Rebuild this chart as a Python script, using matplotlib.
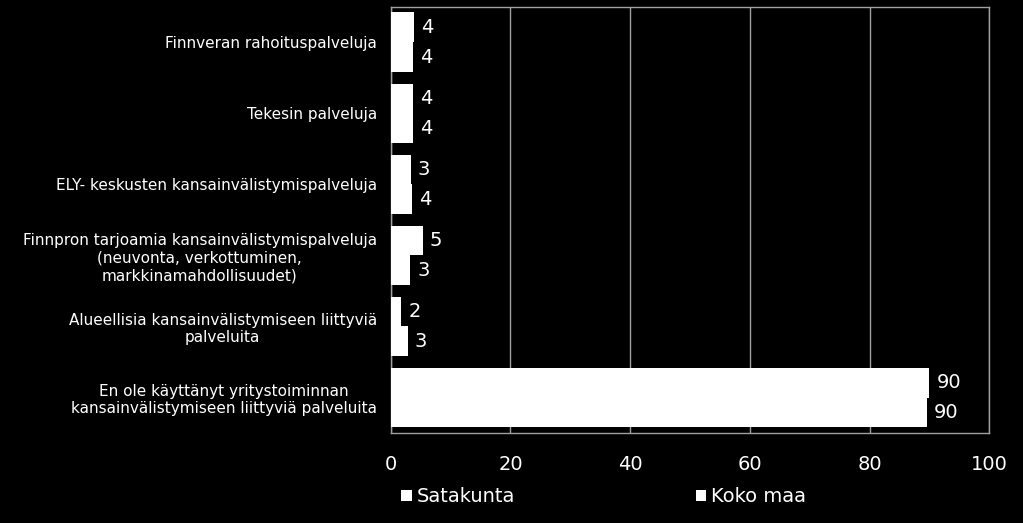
import numpy as np
import matplotlib.pyplot as plt

categories = [
    "Finnveran rahoituspalveluja",
    "Tekesin palveluja",
    "ELY- keskusten kansainvälistymispalveluja",
    "Finnpron tarjoamia kansainvälistymispalveluja\n(neuvonta, verkottuminen,\nmarkkinamahdollisuudet)",
    "Alueellisia kansainvälistymiseen liittyviä\npalveluita",
    "En ole käyttänyt yritystoiminnan\nkansainvälistymiseen liittyviä palveluita",
]
satakunta = [3.9, 3.7, 3.3, 5.3, 1.7, 90.0]
koko_maa = [3.7, 3.7, 3.6, 3.2, 2.8, 89.6]
satakunta_labels = ["4", "4", "3", "5", "2", "90"]
koko_maa_labels = ["4", "4", "4", "3", "3", "90"]
xticks = [0, 20, 40, 60, 80, 100]

fig = plt.figure(figsize=(10.23, 5.23), dpi=100, facecolor="black")
ax = fig.add_axes([0.382, 0.172, 0.585, 0.815], facecolor="black")

y = np.arange(len(categories))
h = 0.42
b1 = ax.barh(y - h / 2, satakunta, height=h, color="white", label="Satakunta", zorder=3)
b2 = ax.barh(y + h / 2, koko_maa, height=h, color="white", label="Koko maa", zorder=3)

for bars, labs in ((b1, satakunta_labels), (b2, koko_maa_labels)):
    for bar, lab in zip(bars, labs):
        ax.text(bar.get_width() + 1.2, bar.get_y() + bar.get_height() / 2, lab,
                color="white", fontsize=14, va="center", ha="left")

ax.set_xlim(0, 100)
ax.set_ylim(len(categories) - 0.5, -0.5)
ax.set_xticks(xticks)
ax.set_xticklabels([str(t) for t in xticks], color="white", fontsize=14)
ax.set_yticks(y)
ax.set_yticklabels(categories, color="white", fontsize=11, multialignment="center")
ax.tick_params(axis="y", length=0, pad=10)
ax.tick_params(axis="x", length=0, pad=16)
ax.grid(axis="x", color="#a0a0a0", linewidth=1, zorder=0)
for s in ax.spines.values():
    s.set_color("#a0a0a0")
    s.set_linewidth(1)

leg = fig.legend(loc="center", bbox_to_anchor=(0.590, 0.05), ncol=2, frameon=False,
                 fontsize=14, handlelength=0.55, handleheight=0.55, handletextpad=0.25,
                 columnspacing=9.3, labelcolor="white")

fig.savefig("out.png", dpi=100, facecolor="black")
